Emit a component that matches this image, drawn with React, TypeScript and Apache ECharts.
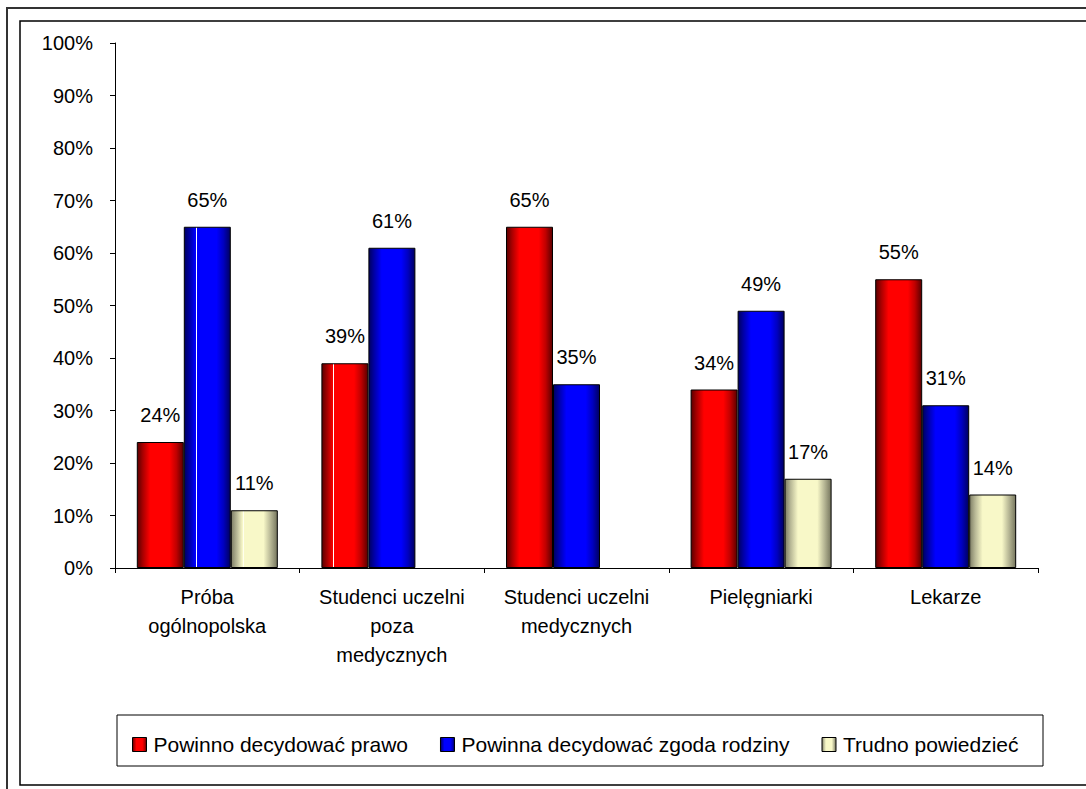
import React, { useEffect, useRef } from "react";
import * as echarts from "echarts";

const categories = [
  "Próba\nogólnopolska",
  "Studenci uczelni\npoza\nmedycznych",
  "Studenci uczelni\nmedycznych",
  "Pielęgniarki",
  "Lekarze",
];
const seriesNames = [
  "Powinno decydować prawo",
  "Powinna decydować zgoda rodziny",
  "Trudno powiedzieć",
];
const lawValues = [24, 39, 65, 34, 55];
const familyValues = [65, 61, 35, 49, 31];
const hardValues: (number | null)[] = [11, null, null, 17, 14];
const yTicks = { min: 0, max: 100, interval: 10 };

// bars that show a thin light stripe in the original rendering (category index per series)
const stripeLaw = [1];
const stripeFamily = [0];
const stripeHard = [0];

const FONT = "Liberation Sans, Arial, sans-serif";

type Pal = { edge: string; mid1: string; bright: string; mid2: string; edgeR: string; stripe: string };

function grad(p: Pal, withStripe: boolean) {
  const stops = [
    { offset: 0, color: p.edge },
    { offset: 0.12, color: p.mid1 },
  ];
  if (withStripe) {
    stops.push(
      { offset: 0.245, color: p.bright },
      { offset: 0.245, color: p.stripe },
      { offset: 0.27, color: p.stripe },
      { offset: 0.27, color: p.bright }
    );
  } else {
    stops.push({ offset: 0.28, color: p.bright });
  }
  stops.push(
    { offset: 0.7, color: p.bright },
    { offset: 0.85, color: p.mid2 },
    { offset: 1, color: p.edgeR }
  );
  return new echarts.graphic.LinearGradient(0, 0, 1, 0, stops);
}

export default function App() {
  const ref = useRef<HTMLDivElement>(null);
  useEffect(() => {
    if (!ref.current) return;
    const chart = echarts.init(ref.current, undefined, { renderer: "svg" });
    const red: Pal = { edge: "#5a0000", mid1: "#a80000", bright: "#ff0000", mid2: "#c00000", edgeR: "#5a0000", stripe: "#ffffff" };
    const blue: Pal = { edge: "#000060", mid1: "#0000a8", bright: "#0000ff", mid2: "#0000c0", edgeR: "#000060", stripe: "#ffffff" };
    const beige: Pal = { edge: "#7e7e66", mid1: "#b8b896", bright: "#f8f8c8", mid2: "#b8b896", edgeR: "#76765e", stripe: "#ffffee" };
    const labelCfg = {
      show: true,
      position: "top" as const,
      distance: 17,
      formatter: "{c}%",
      color: "#000",
      fontSize: 20,
      fontFamily: FONT,
    };
    const mk = (name: string, values: (number | null)[], pal: Pal, stripes: number[]) => ({
      name,
      type: "bar",
      data: values.map((v, i) =>
        stripes.includes(i) ? { value: v, itemStyle: { color: grad(pal, true) } } : v
      ),
      barWidth: 47,
      barGap: "0%",
      itemStyle: { color: grad(pal, false), borderColor: "#000", borderWidth: 1 },
      label: labelCfg,
    });
    chart.setOption({
      animation: false,
      backgroundColor: "#fff",
      textStyle: { fontFamily: FONT },
      grid: { left: 115, right: 48, top: 43, bottom: 221, containLabel: false },
      graphic: [
        {
          type: "rect",
          shape: { x: 7, y: 8, width: 1200, height: 1000 },
          style: { fill: "none", stroke: "#333", lineWidth: 2 },
          z: -1,
        },
        {
          type: "rect",
          shape: { x: 20, y: 21, width: 1200, height: 764 },
          style: { fill: "none", stroke: "#000", lineWidth: 1.5 },
          z: -1,
        },
        {
          type: "rect",
          shape: { x: 117, y: 715, width: 926, height: 51 },
          style: { fill: "#fff", stroke: "#000", lineWidth: 1 },
          z: -1,
        },
      ],
      legend: {
        left: 127,
        top: 729,
        itemWidth: 14,
        itemHeight: 14,
        itemGap: 32,
        icon: "rect",
        itemStyle: { borderColor: "#000", borderWidth: 1 },
        textStyle: { fontSize: 21, color: "#000", fontFamily: FONT, padding: [0, 0, 0, 2] },
        data: seriesNames,
      },
      xAxis: {
        type: "category",
        data: categories,
        axisLine: { lineStyle: { color: "#000", width: 1 } },
        axisTick: { show: true, length: 5, lineStyle: { color: "#000" } },
        axisLabel: {
          color: "#000",
          fontSize: 20,
          fontFamily: FONT,
          lineHeight: 29,
          margin: 14,
          interval: 0,
        },
      },
      yAxis: {
        type: "value",
        min: yTicks.min,
        max: yTicks.max,
        interval: yTicks.interval,
        axisLine: { show: true, lineStyle: { color: "#000", width: 1 } },
        axisTick: { show: true, length: 5, lineStyle: { color: "#000" } },
        splitLine: { show: false },
        axisLabel: {
          formatter: "{value}%",
          color: "#000",
          fontSize: 20,
          fontFamily: FONT,
          margin: 22,
        },
      },
      series: [
        mk(seriesNames[0], lawValues, red, stripeLaw),
        mk(seriesNames[1], familyValues, blue, stripeFamily),
        mk(seriesNames[2], hardValues, beige, stripeHard),
      ],
    });
    return () => chart.dispose();
  }, []);
  return (
    <div
      ref={ref}
      style={{ position: "fixed", left: 0, top: 0, width: 1086, height: 789, background: "#fff" }}
    />
  );
}
